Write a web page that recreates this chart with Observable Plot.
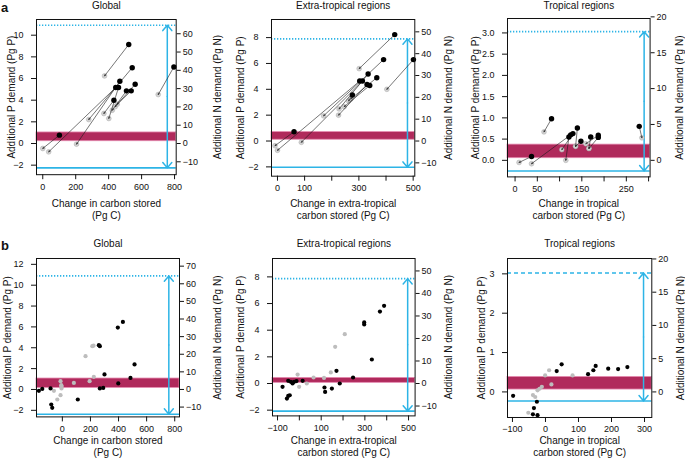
<!DOCTYPE html>
<html><head><meta charset="utf-8">
<script src="https://cdn.jsdelivr.net/npm/d3@7"></script>
<script src="https://cdn.jsdelivr.net/npm/@observablehq/plot@0.6"></script>
<style>
body{margin:0;background:#fff;}
#root{position:relative;width:685px;height:459px;overflow:hidden;font-family:"Liberation Sans",Arial,sans-serif;background:#fff;}
.tag{position:absolute;font-weight:bold;font-size:13px;line-height:15px;color:#111;}
</style></head><body><div id="root"></div>
<script>
// ---------- DATA ----------
// Row a: pairs (black = model point, grey = point after correction, arrow black -> grey)
const aGlobalBlackC = [522, 796, 543, 468, 443, 460, 508, 537, 561, 432, 101];
const aGlobalBlackP = [9.14, 7.07, 7.0, 5.75, 5.17, 5.17, 4.86, 4.86, 5.47, 4.0, 0.77];
const aGlobalGreyC  = [375, 701, 279, 205, 36, 401, 422, 452, 440, 371, 0];
const aGlobalGreyP  = [6.24, 4.52, 2.21, -0.06, -0.77, 2.31, 3.07, 3.63, 3.4, 2.77, -0.46];

const aExtraBlackC = [432, 501, 391, 61, 303, 313, 334, 366, 330, 340, 276];
const aExtraBlackP = [8.23, 6.3, 6.3, 0.72, 4.64, 4.64, 5.18, 4.9, 4.38, 4.3, 3.56];
const aExtraGreyC  = [301, 403, 170, -9, 0, 88, 227, 270, 225, 246, 262];
const aExtraGreyP  = [5.6, 4.0, 1.95, -0.36, -0.72, -0.1, 2.48, 3.25, 2.0, 2.66, 3.1];

const aTropBlackC = [82, 37, 125, 121, 130, 140, 148, 170, 187, 187, 279];
const aTropBlackP = [0.98, 0.09, 0.6, 0.55, 0.63, 0.76, 0.45, 0.55, 0.59, 0.54, 0.8];
const aTropGreyC  = [65, 9, 37, 114, 105, 136, 136, 166, 159, 166, 285];
const aTropGreyP  = [0.67, -0.05, -0.08, 0.0, 0.25, 0.33, 0.33, 0.28, 0.39, 0.28, 0.53];

// Row b: black and grey scatter points
const bGlobalBlackC = [431, 395, 260, 267, 514, 300, 485, 398, 267, 291, 110, -79, -72, -84, -143, -167];
const bGlobalBlackP = [6.48, 5.94, 4.25, 4.15, 2.4, 1.44, 1.11, 0.58, 0.1, 0.15, -0.96, -1.44, -1.76, 0.1, 0.05, -0.13];
const bGlobalGreyC  = [213, 222, 165, 224, 194, 82, -13, -6, -6, -8, -60, -13, -36];
const bGlobalGreyP  = [4.15, 4.2, 3.19, 1.21, 0.8, 0.63, 0.8, 0.32, 0.1, 0.41, -0.13, -0.55, -0.96];

const bExtraBlackC = [388, 369, 297, 297, 332, 170, 246, 185, 149, 115, 118, -77, -51, -39, -31, -24, -13, 15, -57, -51, -44];
const bExtraBlackP = [5.83, 5.4, 4.58, 4.43, 1.8, 0.95, 0.45, 0.0, -0.38, -0.3, -0.63, -0.25, 0.2, 0.13, 0.0, 0.13, 0.18, 0.2, -1.13, -0.93, -0.88];
const bExtraGreyC  = [208, 164, 144, 113, 65, 34, -1, -8];
const bExtraGreyP  = [3.7, 2.75, 0.83, 0.42, 0.45, 0.0, -0.25, 0.67];

const bTropBlackC = [-98, -26, -35, -38, -24, 34, 49, 129, 145, 152, 190, 220, 248];
const bTropBlackP = [-0.1, -0.25, -0.41, -0.57, -0.59, 0.53, 0.7, 0.45, 0.55, 0.66, 0.59, 0.58, 0.63];
const bTropGreyC  = [-52, -38, -31, -24, -18, -11, -1, 11, 18, 82];
const bTropGreyP  = [-0.53, -0.08, -0.13, 0.04, 0.08, 0.13, 0.42, 0.55, 0.19, 0.42];

// Reference levels per panel (aG, aE, aT, bG, bE, bT), in Pg P
const capacityP = [10.92, 7.9, 3.03, 10.89, 7.87, 3.02];   // dotted cyan
const floorP    = [-2.25, -2.03, -0.25, -2.37, -2.07, -0.23]; // solid cyan
const arrowC    = [756, 479, 290, 758, 496, 297];           // double arrow position
const bandLow   = [0.21, 0.1, 0.05, 0.15, 0.05, 0.06];
const bandHigh  = [1.02, 0.69, 0.37, 1.05, 0.42, 0.38];

// Axis ticks
const ticksXGlobal = [0, 200, 400, 600, 800];
const ticksXExtraA = [0, 100, 200, 300, 400, 500];
const labelsXExtraA = [0, 100, 300, 500];
const ticksXTropA = [0, 50, 100, 150, 200, 250, 300];
const labelsXTropA = [0, 50, 150, 250];
const ticksXExtraB = [-100, 0, 100, 200, 300, 400, 500];
const labelsXExtraB = [-100, 100, 300, 500];
const ticksXTropB = [-100, 0, 100, 200, 300];
const ticksPGlobalA = [-2, 0, 2, 4, 6, 8, 10];
const ticksPGlobalB = [-2, 0, 2, 4, 6, 8, 10, 12];
const ticksPExtra = [-2, 0, 2, 4, 6, 8];
const ticksPTropA = [0, 0.5, 1, 1.5, 2, 2.5, 3];
const ticksPTropB = [0, 1, 2, 3];
const ticksNGlobalA = [-10, 0, 10, 20, 30, 40, 50, 60];
const ticksNGlobalB = [-10, 0, 10, 20, 30, 40, 50, 60, 70];
const ticksNExtra = [-10, 0, 10, 20, 30, 40, 50];
const ticksNTrop = [0, 5, 10, 15, 20];
const NP_RATIO = 5.92;

const titles = ["Global", "Extra-tropical regions", "Tropical regions"];
const xLabels = ["Change in carbon stored\n(Pg C)", "Change in extra-tropical\ncarbon stored (Pg C)", "Change in tropical\ncarbon stored (Pg C)"];
const yLabelP = "Additional P demand (Pg P)";
const yLabelN = "Additional N demand (Pg N)";

// ---------- STYLE ----------
const CYAN = "#2db4e6", BAND = "#b02a5c", BAND_EDGE = "#e58ab0";
const minus = d => (d < 0 ? "\u2212" : "") + Math.abs(d);

const panels = [
  {row:"a", k:0, col:0, frame:[36,175.7,19.3,174.5], xDomain:[-38,810], yDomain:[-2.88,11.45],
   bc:aGlobalBlackC, bp:aGlobalBlackP, gc:aGlobalGreyC, gp:aGlobalGreyP,
   xt:ticksXGlobal, xl:ticksXGlobal, pt:ticksPGlobalA, nt:ticksNGlobalA, pf:minus,
   titleY:5.5, lxP:11.7, lxN:217.3, xlabY:209, dash:"1.3,1.7"},
  {row:"a", k:1, col:1, frame:[270.7,414,19.3,176], xDomain:[-22,506], yDomain:[-2.72,9.4],
   bc:aExtraBlackC, bp:aExtraBlackP, gc:aExtraGreyC, gp:aExtraGreyP,
   xt:ticksXExtraA, xl:labelsXExtraA, pt:ticksPExtra, nt:ticksNExtra, pf:minus,
   titleY:5.5, lxP:240, lxN:447.7, xlabY:209, dash:"1.3,1.7"},
  {row:"a", k:2, col:2, frame:[506.7,649.3,18.3,176.7], xDomain:[-17,303.4], yDomain:[-0.39,3.34],
   bc:aTropBlackC, bp:aTropBlackP, gc:aTropGreyC, gp:aTropGreyP,
   xt:ticksXTropA, xl:labelsXTropA, pt:ticksPTropA, nt:ticksNTrop, pf:d3.format(".1f"),
   titleY:5.5, lxP:475, lxN:679, xlabY:209, dash:"1.3,1.7"},
  {row:"b", k:3, col:0, frame:[36,179,258.3,416.7], xDomain:[-184,834], yDomain:[-2.63,12.56],
   bc:bGlobalBlackC, bp:bGlobalBlackP, gc:bGlobalGreyC, gp:bGlobalGreyP,
   xt:ticksXGlobal, xl:ticksXGlobal, pt:ticksPGlobalB, nt:ticksNGlobalB, pf:minus,
   titleY:244, lxP:7.5, lxN:217.3, xlabY:446.3, dash:"1.3,1.7"},
  {row:"b", k:4, col:1, frame:[271.7,414.3,258.3,415.7], xDomain:[-123,530], yDomain:[-2.43,9.38],
   bc:bExtraBlackC, bp:bExtraBlackP, gc:bExtraGreyC, gp:bExtraGreyP,
   xt:ticksXExtraB, xl:labelsXExtraB, pt:ticksPExtra, nt:ticksNExtra, pf:minus,
   titleY:244, lxP:240, lxN:447.7, xlabY:446.3, dash:"1.3,1.7"},
  {row:"b", k:5, col:2, frame:[506.7,651,258.3,417.3], xDomain:[-115,322], yDomain:[-0.65,3.39],
   bc:bTropBlackC, bp:bTropBlackP, gc:bTropGreyC, gp:bTropGreyP,
   xt:ticksXTropB, xl:ticksXTropB, pt:ticksPTropB, nt:ticksNTrop, pf:minus,
   titleY:244, lxP:481, lxN:680, xlabY:446.3, dash:"4,3"}
];

const root = document.getElementById("root");

for (const p of panels) {
  const [fx0, fx1, fy0, fy1] = p.frame;
  const mL = 45, mR = 55, mT = 25, mB = 50;
  const width = fx1 - fx0 + mL + mR, height = fy1 - fy0 + mT + mB;
  const k = p.k;
  const black = p.bc.map((c, i) => ({c, P: p.bp[i]}));
  const grey = p.gc.map((c, i) => ({c, P: p.gp[i]}));
  const pairs = p.bc.map((c, i) => ({c1: c, p1: p.bp[i], c2: p.gc[i], p2: p.gp[i]}));
  const mid = (capacityP[k] + floorP[k]) / 2;
  const isA = p.row === "a";
  const marks = [
    Plot.rect([[bandLow[k], bandHigh[k]]], {x1: () => p.xDomain[0], x2: () => p.xDomain[1], y1: d => d[0], y2: d => d[1], fill: BAND, stroke: BAND_EDGE, strokeWidth: 0.8}),
    Plot.ruleY([capacityP[k]], {stroke: CYAN, strokeWidth: 1.6, strokeDasharray: p.dash}),
    Plot.ruleY([floorP[k]], {stroke: CYAN, strokeWidth: 1.6}),
    Plot.arrow([capacityP[k], floorP[k]], {x1: () => arrowC[k], x2: () => arrowC[k], y1: () => mid, y2: d => d, stroke: CYAN, strokeWidth: 1.5, headLength: 7, headAngle: 80}),
  ];
  if (isA) {
    marks.push(
      Plot.dot(grey, {x: "c", y: "P", r: 2.4, fill: "#d4d4d4", stroke: "#a8a8a8", strokeWidth: 0.5}),
      Plot.arrow(pairs, {x1: "c1", y1: "p1", x2: "c2", y2: "p2", stroke: "#1a1a1a", strokeWidth: 0.6, headLength: 3.5, headAngle: 50}),
      Plot.dot(black, {x: "c", y: "P", r: 2.7, fill: "#000"})
    );
  } else {
    marks.push(
      Plot.dot(grey, {x: "c", y: "P", r: 2.1, fill: "#bdbdbd"}),
      Plot.dot(black, {x: "c", y: "P", r: 2.1, fill: "#000"})
    );
  }
  marks.push(
    Plot.frame({stroke: "#111", strokeWidth: 1}),
    Plot.axisX(p.xt, {tickSize: 5, tickPadding: 3.5, tickFormat: d => p.xl.includes(d) ? minus(d) : "", label: null, fontSize: 9, stroke: "#111"}),
    Plot.axisY(p.pt, {anchor: "left", tickSize: 5, tickPadding: 8, tickFormat: p.pf, label: null, fontSize: 9}),
    Plot.axisY(p.nt.map(n => n / NP_RATIO), {anchor: "right", tickSize: 4, tickPadding: 2.5, tickFormat: d => minus(Math.round(d * NP_RATIO)), label: null, fontSize: 9}),
    Plot.text([titles[p.col]], {text: d => d, frameAnchor: "top", lineAnchor: "middle", dy: p.titleY - fy0, fontSize: 10}),
    Plot.text([yLabelP], {text: d => d, frameAnchor: "left", textAnchor: "middle", lineAnchor: "middle", dx: p.lxP - fx0, rotate: -90, fontSize: 10}),
    Plot.text([yLabelN], {text: d => d, frameAnchor: "right", textAnchor: "middle", lineAnchor: "middle", dx: p.lxN - fx1, rotate: -90, fontSize: 10}),
    Plot.text([xLabels[p.col]], {text: d => d, frameAnchor: "bottom", lineAnchor: "middle", dy: p.xlabY - fy1, fontSize: 10, lineHeight: 1.2})
  );
  const svg = Plot.plot({
    width, height, marginLeft: mL, marginRight: mR, marginTop: mT, marginBottom: mB,
    x: {domain: p.xDomain, axis: null}, y: {domain: p.yDomain, axis: null},
    style: {fontFamily: "'Liberation Sans', Arial, sans-serif", fontSize: "9px", color: "#111", background: "transparent", overflow: "visible", maxWidth: "none"},
    marks
  });
  svg.style.position = "absolute";
  svg.style.left = (fx0 - mL) + "px";
  svg.style.top = (fy0 - mT) + "px";
  root.appendChild(svg);
}

for (const [t, y] of [["a", 0], ["b", 238]]) {
  const d = document.createElement("div");
  d.className = "tag"; d.textContent = t;
  d.style.left = "1px"; d.style.top = y + "px";
  root.appendChild(d);
}
</script></body></html>
